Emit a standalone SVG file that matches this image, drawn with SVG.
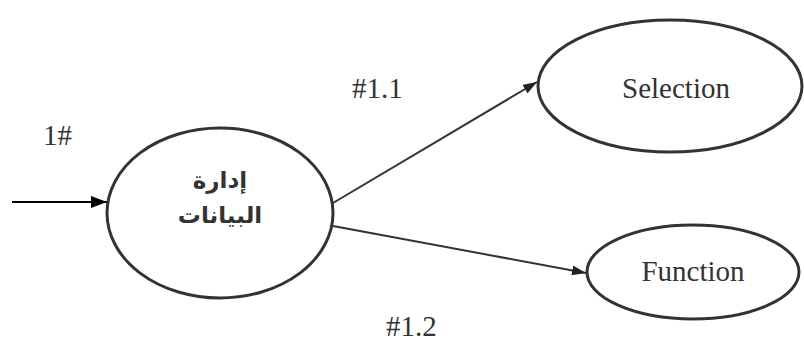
<svg xmlns="http://www.w3.org/2000/svg" width="804" height="345" viewBox="0 0 804 345">
<style>
.node{fill:#fff;stroke:#333;stroke-width:3}
.lbl{font-family:"Liberation Serif","Times New Roman",serif;font-size:29px;fill:#333}
.ar{font-family:"DejaVu Sans",sans-serif;font-weight:bold;font-size:23px;fill:#333}
.edge{stroke:#333;stroke-width:2;fill:none}
</style>
<defs>
<marker id="ah" markerWidth="14" markerHeight="10" refX="14" refY="5" orient="auto" markerUnits="userSpaceOnUse">
<path d="M0,0 L14,5 L0,10 z" fill="#222"/>
</marker>
<marker id="ah2" markerWidth="16" markerHeight="12" refX="16" refY="6" orient="auto" markerUnits="userSpaceOnUse">
<path d="M0,0 L16,6 L0,12 z" fill="#000"/>
</marker>
</defs>
<g id="connectors">
<line x1="12" y1="202" x2="107" y2="202" stroke="#000" stroke-width="2" marker-end="url(#ah2)"/>
<line class="edge" x1="333" y1="203" x2="537" y2="82" marker-end="url(#ah)"/>
<line class="edge" x1="333" y1="226" x2="586" y2="273" marker-end="url(#ah)"/>
</g>
<g id="node-data">
<ellipse class="node" cx="220" cy="213" rx="113" ry="85"/>
<text class="ar" x="220" y="188" text-anchor="middle">إدارة</text>
<text class="ar" x="220" y="223" text-anchor="middle">البيانات</text>
</g>
<g id="node-selection">
<ellipse class="node" cx="670" cy="86" rx="132" ry="66"/>
<text class="lbl" x="676" y="98" text-anchor="middle">Selection</text>
</g>
<g id="node-function">
<ellipse class="node" cx="693" cy="272" rx="106" ry="47"/>
<text class="lbl" x="693" y="281" text-anchor="middle">Function</text>
</g>
<g id="labels">
<text class="lbl" x="43" y="145">1#</text>
<text class="lbl" x="352" y="98">#1.1</text>
<text class="lbl" x="386" y="336">#1.2</text>
</g>
</svg>
